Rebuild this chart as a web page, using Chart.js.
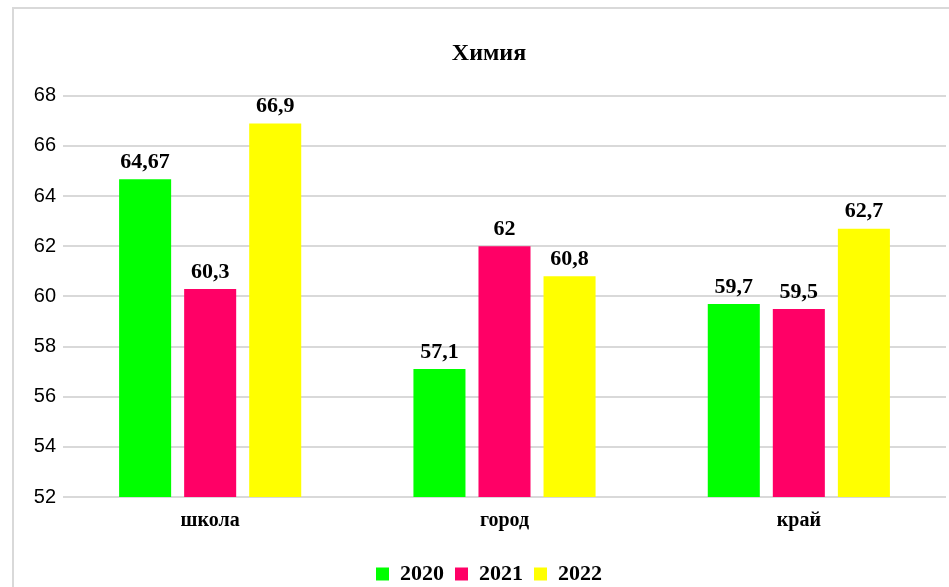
<!DOCTYPE html>
<html>
<head>
<meta charset="utf-8">
<script src="https://cdn.jsdelivr.net/npm/chart.js@4"></script>
<style>
  html, body { margin: 0; padding: 0; background: #fff; overflow: hidden; width: 949px; height: 587px; }
  .frame { position: absolute; left: 12px; top: 7px; width: 950px; height: 600px; border: 2px solid #d9d9d9; }
  .frame canvas { position: absolute; left: 0; top: 0; }
</style>
</head>
<body>
<div class="frame">
  <canvas id="chimChart" width="950" height="586" style="width:950px;height:586px"></canvas>
</div>
<script>
const categories = ['школа', 'город', 'край'];
const years = ['2020', '2021', '2022'];
const values2020 = [64.67, 57.1, 59.7];
const values2021 = [60.3, 62, 59.5];
const values2022 = [66.9, 60.8, 62.7];
const colors = ['#00ff00', '#ff0066', '#ffff00'];

const serif = "'Liberation Serif', 'Times New Roman', serif";

// draws value labels above bars, comma as decimal separator
const valueLabels = {
  id: 'valueLabels',
  afterDatasetsDraw(chart) {
    const ctx = chart.ctx;
    ctx.save();
    ctx.font = 'bold 22px ' + serif;
    ctx.fillStyle = '#000';
    ctx.textAlign = 'center';
    ctx.textBaseline = 'bottom';
    chart.data.datasets.forEach((ds, i) => {
      chart.getDatasetMeta(i).data.forEach((bar, j) => {
        const txt = String(ds.data[j]).replace('.', ',');
        ctx.fillText(txt, bar.x, bar.y - 6);
      });
    });
    ctx.restore();
  }
};

const ctx = document.getElementById('chimChart').getContext('2d');
const chart = new Chart(ctx, {
  type: 'bar',
  data: {
    labels: categories,
    datasets: [
      { label: years[0], data: values2020, backgroundColor: colors[0] },
      { label: years[1], data: values2021, backgroundColor: colors[1] },
      { label: years[2], data: values2022, backgroundColor: colors[2] }
    ]
  },
  options: {
    responsive: false,
    animation: false,
    layout: { padding: { left: 18, right: 18, top: 0, bottom: 0 } },
    datasets: { bar: { barPercentage: 0.8, categoryPercentage: 0.663 } },
    scales: {
      y: {
        min: 52,
        max: 68,
        ticks: {
          stepSize: 2,
          padding: 7,
          color: '#000',
          font: { family: "'Liberation Sans', Arial, sans-serif", size: 20 }
        },
        grid: { color: '#d9d9d9', lineWidth: 2, drawTicks: false },
        border: { display: false },
        afterFit(axis) { axis.width = 31; }
      },
      x: {
        grid: { display: false },
        border: { display: false },
        ticks: {
          padding: 4,
          color: '#000',
          font: { family: serif, size: 20, weight: 'bold' }
        },
        afterFit(axis) { axis.height = 55; }
      }
    },
    plugins: {
      title: {
        display: true,
        text: 'Химия',
        color: '#000',
        font: { family: serif, size: 24, weight: 'bold' },
        padding: { top: 30, bottom: 28 }
      },
      legend: {
        position: 'bottom',
        labels: {
          boxWidth: 13,
          boxHeight: 13,
          padding: 11,
          color: '#000',
          font: { family: serif, size: 22, weight: 'bold' }
        }
      },
      tooltip: { enabled: false }
    }
  },
  plugins: [valueLabels]
});
</script>
</body>
</html>
